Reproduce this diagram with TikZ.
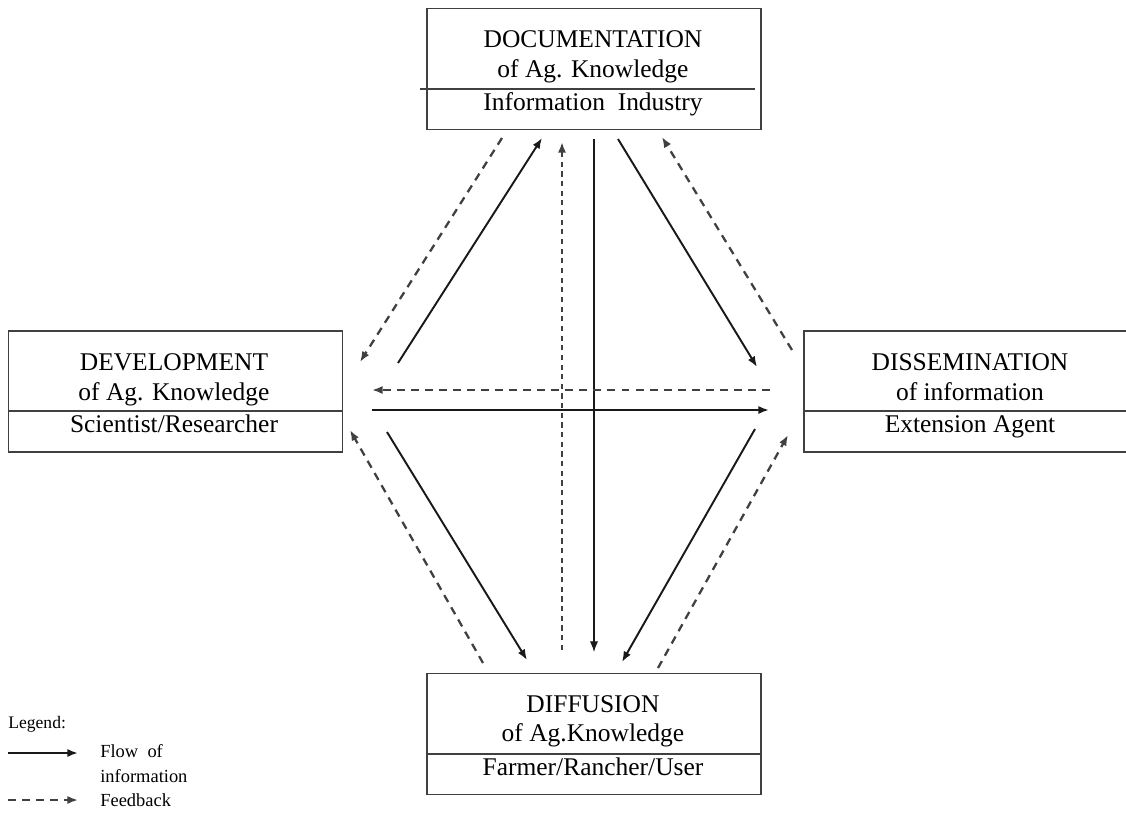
\documentclass[tikz,border=0pt]{standalone}
\usepackage{fontspec}
\setmainfont{Liberation Serif}
\usetikzlibrary{arrows.meta}

\tikzset{
  stagebox/.style={draw=black!75, line width=.7pt, rectangle,
    minimum width=6.68cm, minimum height=2.42cm, inner sep=0pt},
  divider/.style={draw=black!75, line width=.7pt},
  boxtitle/.style={inner sep=0pt, anchor=base, font=\fontsize{14.5}{17}\selectfont},
  legendtext/.style={inner sep=0pt, anchor=base west, font=\fontsize{10.5}{12}\selectfont},
  flow/.style={draw=black!90, line width=1.1pt, -{Latex[length=6pt,width=4.6pt]}},
  thinflow/.style={flow, line width=.6pt},
  wideflow/.style={flow, line width=1.4pt},
  feedback/.style={draw=black!75, line width=1.3pt, dash pattern=on 4.5pt off 3.5pt,
    -{Latex[length=6pt,width=4.6pt]}},
  finefeedback/.style={feedback, line width=1.5pt, dash pattern=on 3pt off 2.5pt}
}

\begin{document}
\begin{tikzpicture}[x=0.02cm, y=-0.02cm]
  \clip (0,0) rectangle (1126,812);

  % the four stages
  \node[stagebox] (doc) at (594,69) {};
  \node[stagebox] (dev) at (175.5,391.5) {};
  \node[stagebox] (dis) at (971,391.5) {};
  \node[stagebox] (dif) at (594,734) {};

  \draw[divider] (420,89) -- (755,89);
  \draw[divider] (dev.west |- 0,411) -- (dev.east |- 0,411);
  \draw[divider] (dis.west |- 0,411) -- (dis.east |- 0,411);
  \draw[divider] (dif.west |- 0,754) -- (dif.east |- 0,754);

  \node[boxtitle] (doc-t1) at (593,47) {DOCUMENTATION};
  \node[boxtitle] (doc-t2) at (593,77) {of Ag. Knowledge};
  \node[boxtitle] (doc-t3) at (593,110) {Information\ \ Industry};

  \node[boxtitle] (dev-t1) at (174,370) {DEVELOPMENT};
  \node[boxtitle] (dev-t2) at (174,400) {of Ag. Knowledge};
  \node[boxtitle] (dev-t3) at (174,432) {Scientist/Researcher};

  \node[boxtitle] (dis-t1) at (970,370) {DISSEMINATION};
  \node[boxtitle] (dis-t2) at (970,400) {of information};
  \node[boxtitle] (dis-t3) at (970,432) {Extension Agent};

  \node[boxtitle] (dif-t1) at (593,712) {DIFFUSION};
  \node[boxtitle] (dif-t2) at (593,741) {of Ag.Knowledge};
  \node[boxtitle] (dif-t3) at (593,775) {Farmer/Rancher/User};

  % arrow ends
  \coordinate (dev-ne1) at (398,363);  \coordinate (doc-sw1) at (542,138);
  \coordinate (doc-sw2) at (502,138);  \coordinate (dev-ne2) at (360,362);
  \coordinate (doc-se1) at (618,139);  \coordinate (dis-nw1) at (757,367);
  \coordinate (dis-nw2) at (792,350);  \coordinate (doc-se2) at (662,137);
  \coordinate (dif-n1)  at (562,650);  \coordinate (doc-s1)  at (562,142);
  \coordinate (doc-s2)  at (594,139);  \coordinate (dif-n2)  at (594,652);
  \coordinate (dis-w1)  at (770,390);  \coordinate (dev-e1)  at (372,390);
  \coordinate (dev-e2)  at (372,410);  \coordinate (dis-w2)  at (769,410);
  \coordinate (dif-nw1) at (483,663);  \coordinate (dev-se1) at (350,430);
  \coordinate (dev-se2) at (387,432);  \coordinate (dif-nw2) at (527,660);
  \coordinate (dis-sw1) at (755,429);  \coordinate (dif-ne1) at (622,662);
  \coordinate (dif-ne2) at (658,668);  \coordinate (dis-sw2) at (788,435);

  \draw[flow] (dev-ne1) -- (doc-sw1);
  \draw[feedback] (doc-sw2) -- (dev-ne2);
  \draw[flow] (doc-se1) -- (dis-nw1);
  \draw[feedback] (dis-nw2) -- (doc-se2);
  \draw[finefeedback] (dif-n1) -- (doc-s1);
  \draw[thinflow] (doc-s2) -- (dif-n2);
  \draw[feedback] (dis-w1) -- (dev-e1);
  \draw[wideflow] (dev-e2) -- (dis-w2);
  \draw[feedback] (dif-nw1) -- (dev-se1);
  \draw[flow] (dev-se2) -- (dif-nw2);
  \draw[flow] (dis-sw1) -- (dif-ne1);
  \draw[feedback] (dif-ne2) -- (dis-sw2);

  % legend
  \node[legendtext, font=\fontsize{10}{12}\selectfont] (leg) at (8,728) {Legend:};
  \coordinate (legflow-a) at (8,753);  \coordinate (legflow-b) at (78,753);
  \coordinate (legfb-a) at (8,800);    \coordinate (legfb-b) at (78,800);
  \draw[wideflow] (legflow-a) -- (legflow-b);
  \draw[feedback] (legfb-a) -- (legfb-b);
  \node[legendtext] (legflow-t1) at (100,757) {Flow\ \ of};
  \node[legendtext] (legflow-t2) at (100,782) {information};
  \node[legendtext] (legfb-t) at (100,806) {Feedback};
\end{tikzpicture}
\end{document}
